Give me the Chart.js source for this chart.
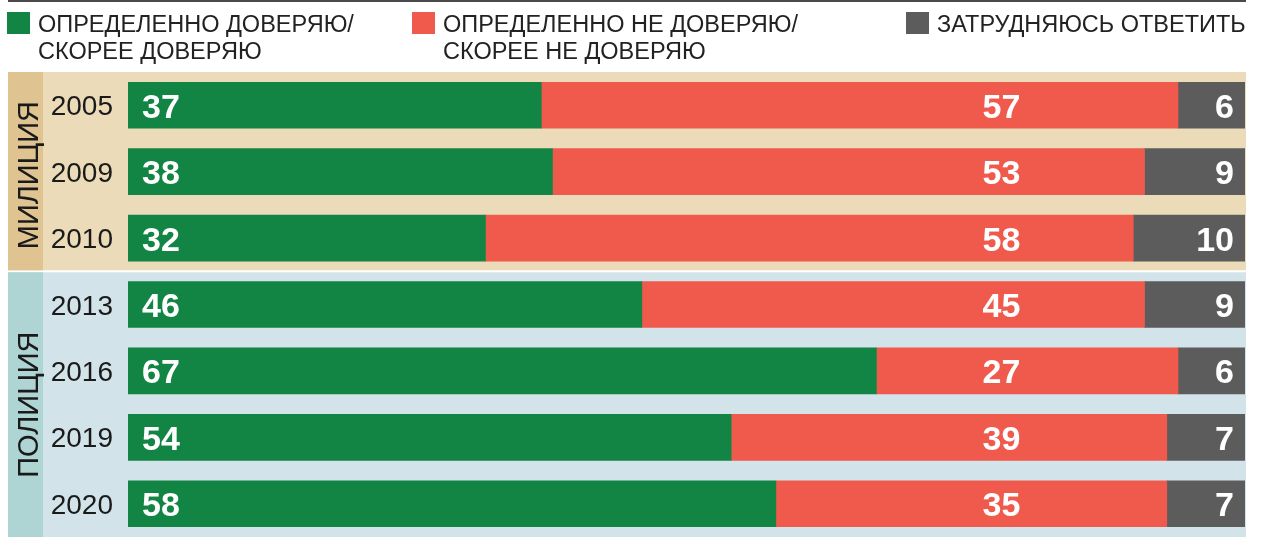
<!DOCTYPE html>
<html>
<head>
<meta charset="utf-8">
<script src="https://cdn.jsdelivr.net/npm/chart.js@4/dist/chart.umd.min.js"></script>
<style>
  html, body { margin: 0; padding: 0; background: #fff; }
  #wrap { position: relative; width: 1262px; height: 544px; overflow: hidden; font-family: "Liberation Sans", Arial, sans-serif; }
  #c { position: absolute; left: 0; top: 0; }
  .topline { position: absolute; left: 8px; top: 0px; width: 1238px; height: 2px; background: #4a4a4a; }
  .leg { position: absolute; top: 12px; display: flex; align-items: flex-start; }
  .sw { width: 23px; height: 22px; flex: none; }
  .lt { font-size: 23.5px; line-height: 27px; color: #222; margin-left: 8px; margin-top: -1px; white-space: nowrap; }
</style>
</head>
<body>
<div id="wrap">
  <canvas id="c" width="1262" height="544"></canvas>
  <div class="topline"></div>
  <div id="legend"></div>
</div>
<script>
const years = ['2005', '2009', '2010', '2013', '2016', '2019', '2020'];
const trust = [37, 38, 32, 46, 67, 54, 58];
const distrust = [57, 53, 58, 45, 27, 39, 35];
const hardToSay = [6, 9, 10, 9, 6, 7, 7];
const seriesNames = ['ОПРЕДЕЛЕННО ДОВЕРЯЮ/\nСКОРЕЕ ДОВЕРЯЮ', 'ОПРЕДЕЛЕННО НЕ ДОВЕРЯЮ/\nСКОРЕЕ НЕ ДОВЕРЯЮ', 'ЗАТРУДНЯЮСЬ ОТВЕТИТЬ'];
const groupNames = ['МИЛИЦИЯ', 'ПОЛИЦИЯ'];
const groupSizes = [3, 4];

const colors = ['#128443', '#F05A4C', '#5C5C5C'];
const panelColors = ['#EBDBB8', '#D3E3EA'];
const bandColors = ['#DFC491', '#AED4D3'];
const legendX = [7, 412, 906];

// legend (HTML text)
const legend = document.getElementById('legend');
seriesNames.forEach((name, i) => {
  const d = document.createElement('div');
  d.className = 'leg';
  d.style.left = legendX[i] + 'px';
  const sw = document.createElement('div');
  sw.className = 'sw';
  sw.style.background = colors[i];
  const t = document.createElement('div');
  t.className = 'lt';
  t.innerHTML = name.split('\n').join('<br>');
  d.appendChild(sw); d.appendChild(t);
  legend.appendChild(d);
});

const FONT = '"Liberation Sans", Arial, sans-serif';

const panelsPlugin = {
  id: 'panels',
  beforeDraw(chart) {
    const ctx = chart.ctx;
    const y = chart.scales.y;
    const step = y.getPixelForValue(1) - y.getPixelForValue(0);
    let start = 0;
    ctx.save();
    groupSizes.forEach((n, g) => {
      const top = y.getPixelForValue(start) - step / 2 + (g > 0 ? 1 : 0);
      const bottom = y.getPixelForValue(start + n - 1) + step / 2 - (g < groupSizes.length - 1 ? 1 : 0);
      ctx.fillStyle = panelColors[g];
      ctx.fillRect(8, top, 1246 - 8, bottom - top);
      ctx.fillStyle = bandColors[g];
      ctx.fillRect(8, top, 35, bottom - top);
      // rotated group label
      ctx.save();
      ctx.translate(27, (top + bottom) / 2 + (g === 0 ? 4 : 0));
      ctx.rotate(-Math.PI / 2);
      ctx.fillStyle = '#1a1a1a';
      ctx.font = '29px ' + FONT;
      ctx.textAlign = 'center';
      ctx.textBaseline = 'alphabetic';
      ctx.fillText(groupNames[g], 0, 10.5);
      ctx.restore();
      start += n;
    });
    // year labels
    ctx.fillStyle = '#1a1a1a';
    ctx.font = '28px ' + FONT;
    ctx.textAlign = 'right';
    ctx.textBaseline = 'alphabetic';
    years.forEach((yr, i) => {
      ctx.fillText(yr, 113, y.getPixelForValue(i) + 10);
    });
    ctx.restore();
  }
};

const valuesPlugin = {
  id: 'values',
  afterDatasetsDraw(chart) {
    const ctx = chart.ctx;
    const xs = chart.scales.x;
    ctx.save();
    ctx.fillStyle = '#ffffff';
    ctx.font = 'bold 34px ' + FONT;
    ctx.textBaseline = 'alphabetic';
    chart.data.datasets.forEach((ds, di) => {
      const meta = chart.getDatasetMeta(di);
      meta.data.forEach((bar, i) => {
        const v = ds.data[i];
        const cy = bar.y + 12.5;
        if (di === 0) {
          ctx.textAlign = 'left';
          ctx.fillText(v, bar.base + 14, cy);
        } else if (di === 1) {
          ctx.textAlign = 'center';
          ctx.fillText(v, xs.getPixelForValue(78.2), cy);
        } else {
          ctx.textAlign = 'right';
          ctx.fillText(v, bar.x - 11, cy);
        }
      });
    });
    ctx.restore();
  }
};

new Chart(document.getElementById('c'), {
  type: 'bar',
  data: {
    labels: years,
    datasets: [
      { label: seriesNames[0], data: trust, backgroundColor: colors[0] },
      { label: seriesNames[1], data: distrust, backgroundColor: colors[1] },
      { label: seriesNames[2], data: hardToSay, backgroundColor: colors[2] }
    ]
  },
  options: {
    indexAxis: 'y',
    responsive: false,
    animation: false,
    devicePixelRatio: 1,
    layout: { padding: { left: 128, right: 17, top: 72, bottom: 7 } },
    datasets: { bar: { barThickness: 46, borderWidth: 0, borderSkipped: false } },
    scales: {
      x: { stacked: true, min: 0, max: 100, display: false },
      y: { stacked: true, display: false }
    },
    plugins: { legend: { display: false }, tooltip: { enabled: false } }
  },
  plugins: [panelsPlugin, valuesPlugin]
});
</script>
</body>
</html>
